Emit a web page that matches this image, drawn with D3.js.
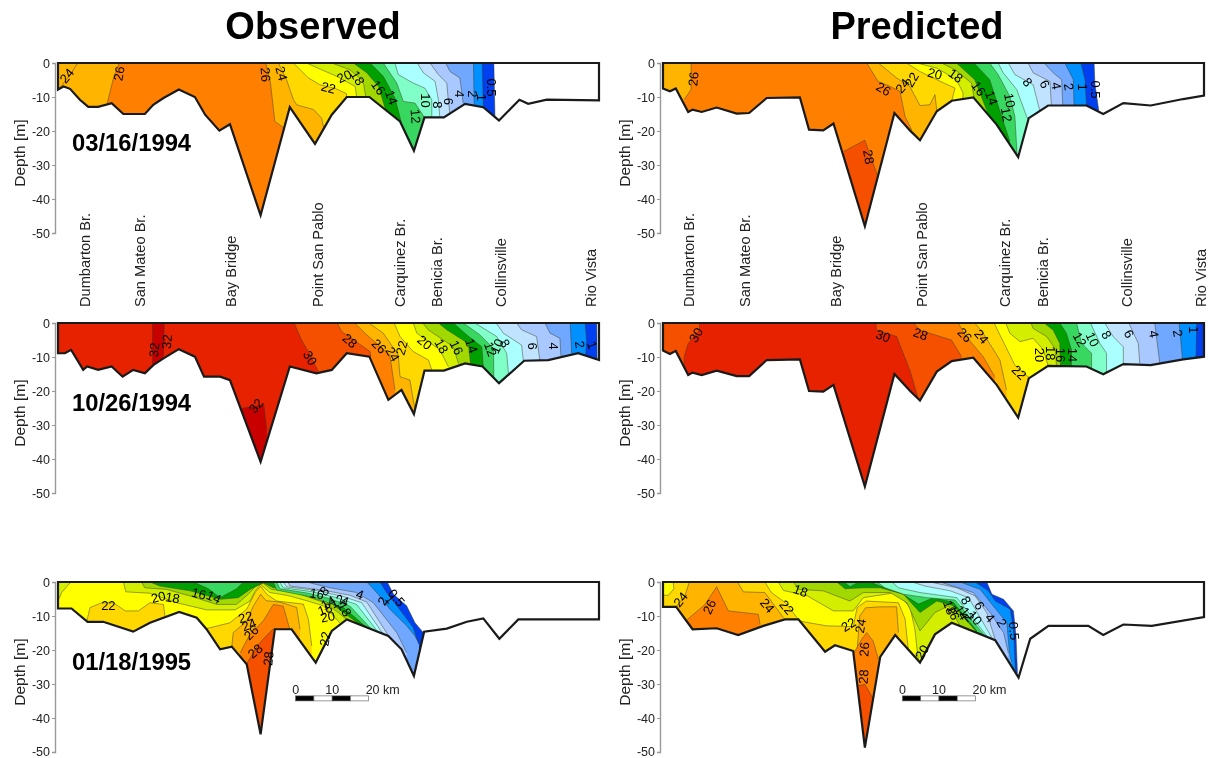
<!DOCTYPE html>
<html>
<head>
<meta charset="utf-8">
<title>Observed vs predicted salinity</title>
<script src="https://cdnjs.cloudflare.com/ajax/libs/d3/7.8.5/d3.min.js"></script>
<style>
html, body { margin: 0; padding: 0; background: #fff; }
svg { display: block; font-family: "Liberation Sans", Arial, sans-serif; filter: blur(0.45px); }
</style>
</head>
<body>
<div id="space"></div>
<script>
var columnTitles = ["Observed", "Predicted"];
var dateLabels = ["03/16/1994", "10/26/1994", "01/18/1995"];
var depthTicks = [0, -10, -20, -30, -40, -50];
var stationNames = ["Dumbarton Br.", "San Mateo Br.", "Bay Bridge", "Point San Pablo", "Carquinez Br.", "Benicia Br.", "Collinsville", "Rio Vista"];
var stationKmObs = [7.4, 22.5, 47.4, 71.2, 93.7, 103.8, 121.4, 145.8];
var stationKmPred = [7.1, 22.5, 47.4, 71, 93.7, 104, 126.9, 147.4];

// class lower bound -> fill colour
var classBreaks = [0.5, 1, 2, 4, 6, 8, 10, 12, 14, 16, 18, 20, 22, 24, 26, 28, 30, 32];
var classColors = ["#ffffff", "#0040f0", "#0090ff", "#70a8ff", "#a8c8ff", "#c0e4ff", "#aaffff", "#80ffc8", "#38d860", "#00a000", "#a0d800", "#d4ee00", "#ffff00", "#ffd800", "#ffb400", "#ff8000", "#f55000", "#e62200", "#c80000"];

// bottom profiles: [km, depth]
var bottomA = [[0, -7.8], [1.5, -6.9], [3.3, -7.6], [6, -10.8], [8.3, -12.9], [11, -12.9], [14.7, -11.8], [17.9, -15], [23.8, -15], [26.1, -12.3], [28.9, -10.3], [33.1, -7.8], [37.5, -10], [40.3, -15.2], [44.2, -19.9], [47.1, -18], [55.5, -44.8], [63.5, -13], [70.4, -23.8], [75, -15.2], [79.1, -10], [85.3, -10], [93.7, -17.2], [97.5, -25.8], [100.4, -16], [105.7, -16], [111.5, -12], [116.5, -13], [120.8, -16.9], [126.4, -10.8], [128.8, -12], [133.9, -10.8], [148.2, -11]];
var bottomB = [[0, -7.5], [1.9, -8.3], [3.5, -7.5], [6.9, -14.4], [8.1, -13.7], [10.6, -14.4], [14.7, -13.1], [20.2, -14.9], [23.6, -14.7], [28.4, -10.3], [37.5, -10.1], [40, -19.6], [43.9, -19.8], [46.7, -17.8], [55.3, -48], [63.4, -14.7], [67.7, -19.9], [70.4, -22.7], [75, -14.2], [79.1, -11.1], [85, -10.1], [91.4, -18.1], [97.3, -27.7], [100.2, -16.2], [105.5, -12.5], [116, -12.5], [120.6, -15], [126.1, -11.8], [133.6, -12.5], [142.5, -10.6], [148.2, -9.6]];
var bottomC = [[0, -8.9], [1.9, -8.9], [3.6, -7.9], [6.9, -13.8], [8, -12.8], [11, -13.8], [14.7, -12.8], [17.7, -15.8], [20.6, -13.8], [23.8, -14.8], [26.1, -12.4], [28.9, -10.4], [33.1, -7.7], [37.5, -9.9], [40, -15.8], [44.4, -15.8], [47.1, -16.8], [55.5, -40.8], [63.5, -12.8], [70.8, -14.8], [75, -13.8], [79.1, -8.9], [85.3, -9.9], [90.5, -22.6], [94.1, -19.7], [97.5, -26.8], [100.4, -14], [105.7, -14], [111.5, -11.9], [116.3, -12.8], [120.8, -17.7], [127.7, -11.1], [134.3, -10.9], [142.5, -8.9], [148.2, -10.9]];
var bottomD = [[0, -8.1], [1.9, -9.1], [3.5, -8.2], [6.9, -15.3], [8.1, -14.6], [10.6, -15.3], [14.7, -14], [20.2, -15.6], [23.6, -15.6], [28.4, -10.9], [37.5, -10.7], [40, -20], [43.9, -20.2], [46.7, -18.2], [55.3, -48.1], [63.4, -15], [67.7, -20], [70.4, -22.8], [75, -14.3], [79.1, -11.2], [85, -10.2], [91.4, -18.2], [97.3, -27.8], [100.2, -16.3], [105.5, -12.6], [116, -12.8], [120.6, -15.1], [126.1, -12.1], [133.6, -12.4], [142.5, -10.7], [148.2, -9.9]];
var bottomE = [[0, -7.8], [3.7, -7.8], [8.1, -11.7], [12.4, -11.7], [20.6, -14.6], [25.2, -12], [33.2, -8.8], [38, -10.5], [40.7, -13.9], [44.4, -19.8], [47.6, -19], [51.7, -24.2], [55.5, -44.8], [59.4, -13.9], [64, -13.9], [70.6, -23.7], [75, -14.4], [79.1, -11], [90.5, -15.9], [94.1, -19.8], [97.5, -27.6], [100.3, -14.6], [106.5, -13.7], [112, -11.7], [116.5, -10.7], [120.9, -16.7], [126.1, -11], [148.2, -11]];
var bottomF = [[0, -7.3], [3.6, -7.3], [8.1, -13.9], [14.7, -13.6], [20.6, -15.6], [27.5, -12.9], [33.4, -11], [37.1, -11], [44.4, -20.5], [47.1, -18.6], [52.1, -20.3], [55.3, -48.7], [59.5, -22], [63.6, -15.6], [70.4, -23.7], [74.5, -15.4], [79.1, -12], [91, -17.1], [97.4, -28.1], [100.6, -16.7], [105.6, -12.9], [116.5, -12.9], [120.6, -15.6], [126.1, -12.5], [133.9, -12.9], [148.2, -10.3]];

// colour class under each panel before the contours go on
var baseClass = [24, 24, 30, 28, 18, 22];

// contour bands: [class, fill side, [km, depth]...]
// fill side: r = everything right of the line, d = below it, u = above it
var bandsA = [
    [24, "r", [[5.4, 0], [3.7, -2.9], [0.5, -7.4]]],
    [26, "r", [[16.8, 0], [15.2, -4.4], [13.5, -11.8]]],
    [24, "r", [[56.9, 0], [58.2, -5.9], [59.4, -17.2], [61.9, -19.1]]],
    [22, "r", [[60.4, 0], [62.6, -4.9], [64.5, -10.8], [65.4, -12.3], [66.7, -12.7], [70, -13.7], [72.2, -16.2], [72.9, -19.6]]],
    [20, "r", [[64.5, 0], [68.6, -4.4], [71.8, -6.4], [76, -7.5], [79, -9], [79.1, -10]]],
    [18, "r", [[68.1, 0], [71.8, -1.8], [76.3, -3.9], [81.4, -6.9], [81.8, -10]]],
    [16, "r", [[75, 0], [80, -2], [83.6, -5.4], [84.3, -10]]],
    [14, "r", [[80.9, 0], [84.6, -2.9], [87.8, -6.9], [89.6, -13.2]]],
    [12, "r", [[85.5, 0], [89.1, -3.9], [92.3, -10.3], [94, -17.2]]],
    [10, "r", [[89.1, 0], [92.8, -5.9], [94.6, -11.3], [97.8, -11.8], [100.5, -16.2]]],
    [8, "r", [[92.3, 0], [93.2, -3.4], [97.3, -5.9], [100.5, -7.4], [102.4, -10.8], [102.4, -16]]],
    [6, "r", [[98.4, 0], [100.1, -2.9], [103.3, -5.4], [104.2, -10.8], [104.6, -16]]],
    [4, "r", [[101.9, 0], [104.2, -3.4], [106.5, -5.9], [106.9, -10.8], [107.4, -15.2]]],
    [2, "r", [[106.2, 0], [107.4, -2.5], [110.1, -4.4], [111, -11.8]]],
    [1, "r", [[113.8, 0], [114, -12.3]]],
    [0.5, "r", [[116.2, 0], [116.5, -12.9]]],
    [0, "r", [[119.4, 0], [119.7, -15.7]]]
];
var bandsB = [
    [26, "r", [[7.7, 0], [7.7, -7.8], [5.8, -10.8]]],
    [28, "d", [[49.5, -26], [55.3, -22.7], [58.7, -33]]],
    [24, "r", [[55.8, 0], [58.9, -5.4], [62, -6.8], [64.9, -8.3], [66.3, -15.7], [68.1, -19.6]]],
    [22, "r", [[59, 0], [64, -4.4], [67.6, -6.9], [70.4, -12.5], [73.1, -12.3], [74.5, -9.3], [75, -14]]],
    [20, "r", [[66.7, 0], [70.4, -2.5], [75, -4.9], [80, -7.4], [79.1, -11.1]]],
    [18, "r", [[69.5, 0], [75, -1.5], [80.4, -4.9], [82.2, -8.8], [82.1, -10.6]]],
    [16, "r", [[76.3, 0], [80, -2], [84.5, -5.9], [85.2, -10.1]]],
    [14, "r", [[80.4, 0], [85.4, -4.9], [88.6, -13.7]]],
    [12, "r", [[85.2, 0], [89.5, -4.9], [92.3, -14.2], [95, -23]]],
    [10, "r", [[89.5, 0], [91.8, -3.4], [95, -9.8], [96.4, -15.7], [97, -27]]],
    [8, "r", [[91.8, 0], [93.2, -2.9], [96.9, -7.8], [99.6, -15.7], [100, -16.7]]],
    [6, "r", [[94.6, 0], [96.4, -3.4], [101.4, -6.4], [102.8, -12.3], [103.2, -14]]],
    [4, "r", [[100, 0], [101.4, -2.9], [106, -5.4], [106.4, -12.5]]],
    [2, "r", [[104.4, 0], [106.9, -2.9], [109.2, -4.9], [109.5, -12.3]]],
    [1, "r", [[110.1, 0], [112.4, -4.9], [112.6, -12.5]]],
    [0.5, "r", [[114.5, 0], [115.6, -4.9], [116, -12.5]]],
    [0, "r", [[118.1, 0], [118.3, -5.9], [119.4, -14.2]]]
];
var bandsC = [
    [32, "r", [[25.9, 0], [25.9, -12]]],
    [30, "r", [[29.1, 0], [28.9, -9.5]]],
    [32, "d", [[50.3, -25.1], [56.4, -24.1], [57.2, -31.5]]],
    [28, "r", [[64.7, 0], [66.7, -5], [68.6, -8.4], [71.3, -14.3]]],
    [26, "r", [[76.5, 0], [77.7, -2.5], [85.5, -8.4], [85.7, -9.9]]],
    [24, "r", [[81.2, 0], [84.6, -3.5], [90.9, -9.4], [92.3, -19.7]]],
    [22, "r", [[85.2, 0], [89.1, -3], [93.2, -9.4], [93.7, -15.8], [96.4, -16.8], [97.8, -25.6]]],
    [20, "r", [[92.1, 0], [93.7, -4], [97.3, -8.4], [101.5, -10.9], [102.4, -13.8]]],
    [18, "r", [[97.3, 0], [98.3, -3], [104.6, -7.9], [106.9, -12.8]]],
    [16, "r", [[99.9, 0], [101.4, -2], [108.3, -7], [109.7, -11.9]]],
    [14, "r", [[104.2, 0], [106.5, -2], [112.4, -6], [113, -11.9]]],
    [12, "r", [[108.3, 0], [112, -3.5], [116.1, -7], [116.5, -12.8]]],
    [10, "r", [[111, 0], [115.6, -3.5], [119.3, -7.5], [119.4, -16.8]]],
    [8, "r", [[114.2, 0], [120.2, -4], [122.9, -8.9], [123.4, -14.8]]],
    [6, "r", [[120, 0], [122, -3], [127, -6.5], [127.5, -11.4]]],
    [4, "r", [[125.6, 0], [127, -2], [131.1, -4], [132, -10.9]]],
    [2, "r", [[133.4, 0], [134.8, -3], [137.5, -4.5], [137.8, -10.1]]],
    [1, "r", [[140.3, 0], [140.7, -8.9]]],
    [0.5, "r", [[144.4, 0], [144.8, -5], [144.5, -9.9]]],
    [0, "r", [[147.6, 0], [147.7, -10.7]]]
];
var bandsD = [
    [30, "r", [[10, 0], [10, -2.1], [6.9, -6], [5.8, -9.9], [5.8, -12.8]]],
    [28, "r", [[58.3, 0], [58.5, -2.1], [64, -4], [64.9, -6.5], [67.6, -13.8], [69.9, -22.2]]],
    [26, "r", [[68.6, 0], [70.4, -2.1], [79, -5], [81.8, -9.9]]],
    [24, "r", [[80.9, 0], [82.7, -3.5], [87.7, -9.9], [90.9, -15.8]]],
    [22, "r", [[85.4, 0], [87.7, -3], [92.3, -10.9], [94.1, -19.7]]],
    [20, "r", [[90.7, 0], [92.3, -3.5], [96.4, -12.4], [100.5, -16.3]]],
    [18, "r", [[93.9, 0], [95, -3], [97.8, -5.5], [101.4, -4.5], [104.2, -7.9], [105.5, -12.6]]],
    [16, "r", [[100.8, 0], [101.4, -1.6], [105.1, -4], [107.4, -7.5], [107.8, -12.6]]],
    [14, "r", [[104.4, 0], [106.9, -2.1], [108.7, -6], [108.9, -12.6]]],
    [12, "r", [[108.7, 0], [110.5, -3], [111.9, -7.9], [111.9, -12.6]]],
    [10, "r", [[113.3, 0], [114.7, -6], [117.4, -8.9], [117.4, -13.3]]],
    [8, "r", [[117.1, 0], [119.7, -6], [121.5, -8.9], [121.5, -14.8]]],
    [6, "r", [[121, 0], [123.3, -4], [126.1, -7], [126.1, -11.9]]],
    [4, "r", [[127.6, 0], [130.2, -6], [130.6, -11.9]]],
    [2, "r", [[134.7, 0], [136.1, -11.9]]],
    [1, "r", [[141.4, 0], [142.3, -10.7]]],
    [0.5, "r", [[146.2, 0], [146, -10.2]]]
];
var bandsE = [
    [20, "r", [[3.5, 0], [1, -3.1], [0, -5.6]]],
    [22, "d", [[7.9, -11.4], [8.8, -7.5], [12, -6.1], [15.2, -6.1], [18.4, -8.5], [22, -8.5], [25.2, -6.1], [28.9, -6.6], [29.3, -10]]],
    [22, "d", [[40.7, -13.7], [47.1, -12], [51.7, -8], [54, -3.1], [55.5, -1.2], [57.2, -3.6], [59.9, -5.6], [67.2, -6.5], [68.6, -11], [69.5, -18.8]]],
    [24, "d", [[47.6, -19], [48, -14.9], [51.7, -11.5], [53.5, -7.1], [55.5, -3.6], [57, -5.5], [60.8, -5.9], [65.4, -7.5], [66.3, -13.9]]],
    [26, "d", [[49.9, -20.8], [52.6, -15.4], [56.2, -11.5], [59, -6.6], [61.7, -7.1], [63.5, -13.9]]],
    [28, "d", [[51.7, -24], [54.9, -18.3], [59, -13.7]]],
    [18, "r", [[17.9, 0], [18.6, -2.9], [25.2, -3.3], [32.5, -6.1], [40.7, -8.2], [48.5, -8.2], [52.6, -5.6], [54, -2.6], [55.5, -0.7], [58, -3.1], [62.6, -3.9], [68.1, -5.5], [72.7, -7], [75.9, -10.5], [77.2, -12]]],
    [16, "r", [[22.9, 0], [23.8, -1.7], [29.8, -2.2], [36.2, -4.1], [43.5, -6.6], [48.9, -6.6], [52.1, -3.6], [54.2, -1.2], [56.2, -0.4], [58.5, -2.2], [63.5, -2.6], [69, -4.6], [73.1, -6.1], [76.8, -9], [79, -11]]],
    [14, "r", [[25.2, 0], [27.9, -1.2], [36.2, -2.6], [44.4, -5.1], [49.4, -4.6], [52.6, -2.2], [56.2, -0.2], [59, -1.7], [64.5, -2], [69, -3.6], [73.6, -5.3], [78.2, -9], [82.7, -12.5]]],
    [12, "u", [[37.1, 0], [41.2, -2], [44.4, -4.6], [48.9, -2], [50.8, 0]]],
    [12, "r", [[59, 0], [59.9, -2.4], [68.1, -4.1], [72.7, -5.6], [78.2, -7.5], [84.6, -13.4]]],
    [10, "r", [[59.9, 0], [60.8, -2], [68.6, -3.3], [74.5, -4.9], [80, -7.1], [85.9, -13.9]]],
    [8, "r", [[60.8, 0], [61.7, -1.7], [69.9, -2.9], [76.3, -4.6], [81.8, -6.6], [87.8, -14.9]]],
    [6, "r", [[61.7, 0], [62.6, -1.4], [71.3, -2.6], [78.2, -4.3], [83.2, -6.1], [89.1, -15.4]]],
    [4, "r", [[62.9, 0], [63.6, -1.2], [72.7, -2.4], [80, -3.9], [84.6, -5.9], [90.9, -16.4]]],
    [2, "r", [[68.1, 0], [74.5, -1.7], [81.8, -3.1], [86.4, -6.1], [92.8, -14.9], [95.5, -20.8]]],
    [1, "r", [[84.6, 0], [87.7, -3.6], [90.9, -8], [95.5, -12.9], [97.8, -15.9], [99.2, -18.8]]],
    [0.5, "r", [[88.2, 0], [90, -3.1], [93.2, -7.5], [97.3, -13.4], [98.2, -16.4], [98.9, -18.3]]],
    [0, "r", [[90.2, 0], [91.9, -3.6], [95.5, -7], [97.8, -12], [100.1, -14.9]]]
];
var bandsF = [
    [20, "u", [[2.8, 0], [3, -2], [1.5, -3.9], [0, -3.9]]],
    [24, "r", [[7.2, 0], [6, -4.1], [3.6, -7.3]]],
    [26, "d", [[6.7, -11], [11.5, -6.6], [14.7, -1.4], [17.9, -8.5], [26.1, -9.5], [26.6, -12.5]]],
    [22, "r", [[20.4, 0], [22, -2.9], [27.9, -3.1], [33, -10.5]]],
    [20, "r", [[27.9, 0], [29.7, -3.1], [33.4, -6], [37.1, -11]]],
    [22, "d", [[37.5, -11.5], [44.8, -12.9], [52.1, -13.1], [53.2, -7.5], [55.7, -5.6], [64.5, -6.1], [66.3, -10.8], [67.2, -19.8]]],
    [24, "d", [[53.2, -19.8], [53.9, -10], [55.5, -7.6], [59.4, -7.3], [64, -7.3], [64.5, -14.9]]],
    [26, "d", [[52.3, -20.8], [54.4, -16.9], [55.8, -14.9], [57.6, -17.4], [59, -22.7]]],
    [28, "d", [[53.2, -30.6], [55.3, -30.1], [57.4, -34]]],
    [18, "r", [[31.6, 0], [33, -2.5], [39.4, -4], [46.7, -8.5], [52.1, -8.5], [54.9, -4.6], [64, -3.1], [67.7, -7.5], [69, -13.9], [69.9, -22.7]]],
    [16, "r", [[35.7, 0], [37.1, -2.2], [43.9, -2.6], [51.2, -5.6], [54.9, -3.1], [62.2, -3.1], [66.8, -6.1], [70.4, -14.4], [74.5, -9], [78.2, -7], [81.4, -12.9]]],
    [14, "r", [[47.6, 0], [49.9, -2], [54.9, -1.7], [59.5, -1.7], [65.9, -3.6], [70.4, -9], [75, -5.6], [79.6, -7], [85.5, -14.2]]],
    [12, "u", [[49.6, 0], [51.2, -1.4], [53.7, 0]]],
    [12, "r", [[56.7, 0], [59.5, -1.2], [65, -3.1], [70, -6.5], [74.1, -4.6], [79.6, -6], [86, -14.4]]],
    [10, "r", [[58.6, 0], [60.8, -1.7], [65.9, -3.6], [72.3, -4.6], [80, -5.3], [87.8, -15.4]]],
    [8, "r", [[62.7, 0], [64.5, -1.7], [70.4, -3.1], [80.5, -4.6], [88.7, -15.9]]],
    [6, "r", [[68.2, 0], [71.8, -1.2], [78.7, -2.6], [83.7, -4.6], [90.1, -16.4]]],
    [4, "r", [[73.2, 0], [80.5, -1.7], [85.5, -4.1], [88.7, -9], [91, -17]]],
    [2, "r", [[75.9, 0], [85, -3.1], [89.6, -9], [93.3, -14.9], [94.6, -20.8]]],
    [1, "r", [[81.4, 0], [86.9, -2.2], [90.5, -7.1], [94.2, -12], [94.9, -20.8], [95.5, -23.7]]],
    [0.5, "r", [[85.5, 0], [89.1, -2.6], [91, -5.6], [95.1, -8], [96, -13.9], [96.5, -25.7]]],
    [0, "r", [[88.7, 0], [90.1, -3.6], [93.3, -5.1], [96, -8.5], [96.7, -15.9], [97.1, -26.7]]]
];

// contour labels: [text, km, depth, rotation]
var labelsA = [["24", 2.4, -3.7, -50], ["26", 16.7, -3.1, -80], ["26", 56.9, -3.4, 85], ["24", 61.3, -3.1, 75], ["22", 74.1, -7.2, 15], ["20", 78.4, -3.9, -25], ["18", 82.1, -4.4, 60], ["16", 87.8, -7.2, 55], ["14", 91.4, -10.1, 70], ["12", 98, -15.7, 85], ["10", 100.8, -11, 90], ["8", 103.9, -12.3, 90], ["6", 106.9, -11.3, 90], ["4", 110, -9.1, 90], ["2", 113.5, -9.1, 90], ["1", 116.1, -10.1, 90], ["0.5", 118.8, -7.2, 90]];
var labelsB = [["26", 8.3, -4.7, -85], ["28", 56.4, -27.6, 80], ["26", 60.4, -7.6, 30], ["24", 65.6, -6.7, -50], ["22", 68.1, -4.9, -60], ["20", 74.5, -3.1, 15], ["18", 80.2, -3.7, 35], ["16", 86.5, -7.5, 55], ["14", 90, -10.3, 70], ["10", 95, -11, 80], ["12", 94.1, -15.2, 80], ["8", 99.9, -5.6, 50], ["6", 104.6, -6.2, 60], ["4", 107.8, -6.7, 80], ["2", 111.2, -7, 80], ["1", 114.9, -7.1, 90], ["0.5", 118.5, -7.8, 90]];
var labelsC = [["32", 26.3, -7.9, -85], ["32", 29.8, -5.5, -85], ["32", 54.2, -24.3, -50], ["30", 69.1, -10.3, 60], ["28", 80, -5.2, 40], ["26", 88, -6.8, 45], ["22", 94.1, -7.3, -75], ["24", 91.7, -9.2, 60], ["20", 100.5, -5.7, 40], ["18", 105.1, -6.8, 60], ["16", 109.2, -7.2, 65], ["14", 113.3, -6.7, 70], ["12", 118.5, -7.7, 70], ["10", 120.2, -6.8, -65], ["8", 122.5, -6, 60], ["6", 130, -6.8, 90], ["4", 135.9, -6.8, 90], ["2", 143, -6.3, 80], ["1", 146.4, -6.5, 70]];
var labelsD = [["30", 9, -3.5, -60], ["30", 60.3, -3.8, 20], ["28", 70.6, -3.2, 20], ["26", 82.7, -3.5, 45], ["24", 87.3, -4, 50], ["22", 97.6, -14.5, 45], ["20", 103.2, -9.4, 90], ["18", 106.2, -8.9, 90], ["16", 108.9, -9.4, 90], ["14", 112.2, -9.4, 90], ["12", 114.2, -4.8, 60], ["10", 117.7, -4.8, 65], ["8", 121.5, -3.5, 60], ["6", 127.7, -3.2, 60], ["4", 134.5, -3.2, 80], ["2", 141.1, -3, 80], ["1", 145.4, -2, 90]];
var labelsE = [["22", 13.8, -6.8, 0], ["20", 27.5, -4.4, -15], ["18", 31.4, -4.6, 10], ["16", 38.6, -3.4, 15], ["14", 42.7, -4.4, 25], ["22", 51.4, -10.3, -15], ["24", 52.3, -12.5, -20], ["26", 52.9, -14.9, -45], ["28", 54, -20.3, -40], ["28", 57.6, -22.5, -85], ["16", 70.9, -3.4, 10], ["8", 72.9, -2.6, -45], ["4", 82.7, -3.6, 20], ["14", 74, -6.1, -30], ["12", 76.5, -5.6, -30], ["4", 78.6, -5.6, 20], ["18", 73.1, -8, -20], ["18", 78.6, -8, 60], ["20", 73.9, -10.2, -10], ["22", 73.1, -16.7, -80], ["2", 88.9, -5.6, -60], ["1", 91, -5, 50], ["0.5", 92.8, -4.6, 50]];
var labelsF = [["24", 4.8, -5.1, -50], ["26", 12.7, -7.3, -65], ["24", 28.6, -6.9, 50], ["22", 33.9, -7.4, 50], ["18", 37.7, -2.5, 20], ["22", 50.8, -12.5, -30], ["24", 54.1, -12.9, -80], ["26", 55.1, -19.8, -85], ["28", 54.9, -27.8, -85], ["20", 70.9, -20.6, -60], ["8", 83, -5.4, 60], ["6", 86.7, -6.9, 60], ["4", 89.6, -10.5, 50], ["2", 92.8, -12, 60], ["0.5", 96.2, -14.4, 85], ["10", 85.5, -10.5, 50], ["12", 83.4, -9.5, 50], ["14", 81.8, -9, 60], ["16", 79.6, -9, 70], ["18", 78.5, -7.5, 70]];

var scaleBarKm = [0, 5, 10, 15, 20];
var scaleBarLabels = [0, 10, 20];

var svg, colorOf, panel_w = 541, panel_h = 170;
var column_x = [58, 663], row_y = [63, 323, 582];

init();

function init() {
    svg = d3.select("#space").append("svg")
        .attr("width", 1215)
        .attr("height", 758);

    colorOf = d3.scaleThreshold().domain(classBreaks).range(classColors);

    drawTitles();

    drawPanel(0, 0, "A", bottomA, bandsA, labelsA, baseClass[0]);
    drawPanel(1, 0, "B", bottomB, bandsB, labelsB, baseClass[1]);
    drawPanel(0, 1, "C", bottomC, bandsC, labelsC, baseClass[2]);
    drawPanel(1, 1, "D", bottomD, bandsD, labelsD, baseClass[3]);
    drawPanel(0, 2, "E", bottomE, bandsE, labelsE, baseClass[4]);
    drawPanel(1, 2, "F", bottomF, bandsF, labelsF, baseClass[5]);

    drawStations(0, stationKmObs);
    drawStations(1, stationKmPred);

    drawScaleBar(0, 65.1);
    drawScaleBar(1, 65.6);
}

function xScale(col) {
    return d3.scaleLinear().domain([0, 148.2]).range([column_x[col], column_x[col] + panel_w]);
}

function yScale(row) {
    return d3.scaleLinear().domain([0, -50]).range([row_y[row], row_y[row] + panel_h]);
}

function drawTitles() {
    svg.selectAll("text.title")
        .data(columnTitles)
        .enter().append("text")
        .attr("class", "title")
        .attr("x", function (d, i) { return i == 0 ? 313 : 917; })
        .attr("y", 39)
        .attr("text-anchor", "middle")
        .attr("font-size", 38)
        .attr("font-weight", "bold")
        .attr("fill", "#000")
        .text(function (d) { return d; });
}

function drawPanel(col, row, id, bottom, bands, labels, base) {
    var x = xScale(col), y = yScale(row);
    var line = d3.line().x(function (d) { return x(d[0]); }).y(function (d) { return y(d[1]); });

    // outline of the water body, used for clip and border
    var outline = [[0, 0]].concat(bottom, [[148.2, 0]]);

    var g = svg.append("g").attr("id", "panel" + id);

    g.append("clipPath").attr("id", "clip" + id)
        .append("path").attr("d", line(outline) + "Z");

    var water = g.append("g").attr("clip-path", "url(#clip" + id + ")");

    water.append("path")
        .attr("d", line(outline) + "Z")
        .attr("fill", colorOf(base));

    // painted in order, later bands lie over earlier ones
    bands.forEach(function (b) {
        water.append("path")
            .attr("d", line(closeBand(b[1], b[2])) + "Z")
            .attr("fill", colorOf(b[0]))
            .attr("stroke", "none");
        water.append("path")
            .attr("d", line(b[2]))
            .attr("fill", "none")
            .attr("stroke", "#3a3a20")
            .attr("stroke-opacity", 0.6)
            .attr("stroke-width", 0.8);
    });

    g.append("path")
        .attr("d", line(outline) + "Z")
        .attr("fill", "none")
        .attr("stroke", "#1a1a1a")
        .attr("stroke-width", 2.2)
        .attr("stroke-linejoin", "miter");

    g.selectAll("text.contour")
        .data(labels)
        .enter().append("text")
        .attr("class", "contour")
        .attr("text-anchor", "middle")
        .attr("dy", "0.36em")
        .attr("font-size", 13)
        .attr("fill", "#000")
        .attr("transform", function (d) {
            return "translate(" + x(d[1]) + "," + y(d[2]) + ") rotate(" + d[3] + ")";
        })
        .text(function (d) { return d[0]; });

    // depth axis
    var axis = d3.axisLeft(y)
        .tickValues(depthTicks)
        .tickSize(3)
        .tickPadding(2)
        .tickFormat(function (d) { return String(d); });

    var ax = g.append("g")
        .attr("transform", "translate(" + (x(0) - 3) + ",0)")
        .call(axis);
    ax.select(".domain").attr("stroke", "#999").attr("stroke-width", 1.4);
    ax.selectAll(".tick line").attr("stroke", "#999");
    ax.selectAll("text")
        .attr("font-family", "\"Liberation Sans\", Arial, sans-serif")
        .attr("font-size", 12.5)
        .attr("fill", "#222");

    // bottom row runs up against the page edge
    ax.selectAll("text")
        .filter(function (d) { return row == 2 && d == -50; })
        .attr("dy", "0.25em");

    g.append("text")
        .attr("transform", "translate(" + (x(0) - 33.5) + "," + y(-26.5) + ") rotate(-90)")
        .attr("text-anchor", "middle")
        .attr("font-size", 15.5)
        .attr("fill", "#222")
        .text("Depth [m]");

    // dates only sit on the observed side
    if (col == 0) {
        g.append("text")
            .attr("x", x(0) + 14)
            .attr("y", y(-26))
            .attr("font-size", 23.8)
            .attr("font-weight", "bold")
            .attr("fill", "#000")
            .text(dateLabels[row]);
    }
}

// extend a contour line to a polygon on the side that gets filled
function closeBand(mode, pts) {
    var first = pts[0], last = pts[pts.length - 1];
    if (mode == "r") {
        return pts.concat([[last[0], -60], [200, -60], [200, 1], [first[0], 1]]);
    }
    if (mode == "d") {
        return pts.concat([[last[0], -60], [first[0], -60]]);
    }
    return pts.concat([[last[0], 1], [first[0], 1]]);
}

function drawStations(col, kms) {
    var x = xScale(col);
    svg.append("g").selectAll("text")
        .data(stationNames)
        .enter().append("text")
        .attr("transform", function (d, i) {
            return "translate(" + x(kms[i]) + ",307) rotate(-90)";
        })
        .attr("dy", "0.36em")
        .attr("font-size", 14.6)
        .attr("fill", "#222")
        .text(function (d) { return d; });
}

function drawScaleBar(col, startKm) {
    var x = xScale(col), y = yScale(2);
    var left = function (km) { return x(startKm + km); };
    var bar = svg.append("g").attr("class", "scalebar");

    bar.selectAll("rect")
        .data(scaleBarKm.slice(0, 4))
        .enter().append("rect")
        .attr("x", function (d) { return left(d); })
        .attr("y", y(-33.5))
        .attr("width", function (d, i) { return left(scaleBarKm[i + 1]) - left(d); })
        .attr("height", 5)
        .attr("fill", function (d, i) { return i % 2 == 0 ? "#000" : "#fff"; })
        .attr("stroke", "#555")
        .attr("stroke-width", 0.6);

    bar.selectAll("text")
        .data(scaleBarLabels)
        .enter().append("text")
        .attr("x", function (d) { return left(d); })
        .attr("y", y(-32.8))
        .attr("text-anchor", function (d) { return d == 20 ? "start" : "middle"; })
        .attr("dx", function (d) { return d == 20 ? -3 : 0; })
        .attr("font-size", 12.5)
        .attr("fill", "#222")
        .text(function (d) { return d == 20 ? "20 km" : d; });
}
</script>
</body>
</html>
